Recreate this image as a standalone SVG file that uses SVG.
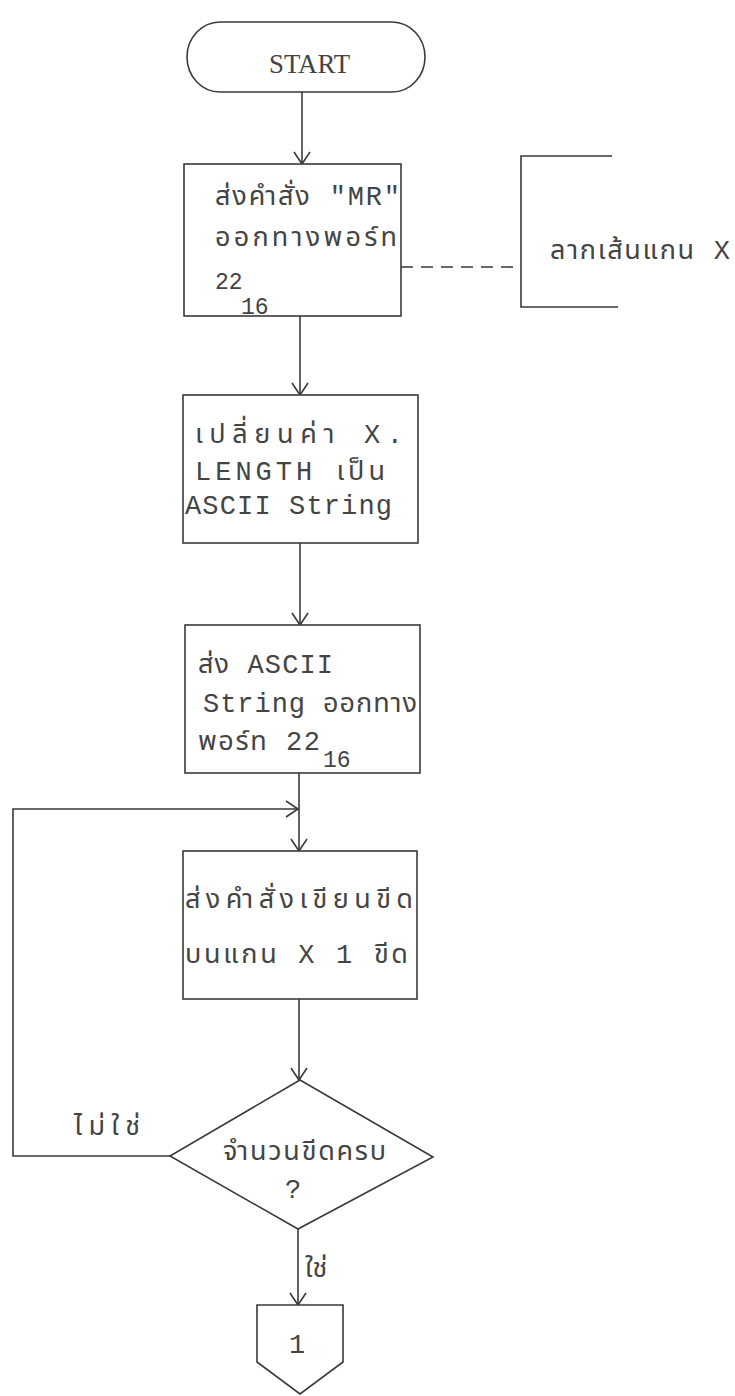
<svg xmlns="http://www.w3.org/2000/svg" width="735" height="1396" viewBox="0 0 735 1396">
<style>
.s{fill:none;stroke:#3a3a3a;stroke-width:1.6}
.n{fill:#ffffff;stroke:#3a3a3a;stroke-width:1.6}
.t{font-family:"Liberation Mono","Noto Sans Thai","Noto Serif Thai","Noto Sans","DejaVu Sans",monospace;font-size:27px;fill:#444444}
.e{font-family:"Liberation Serif",serif;font-size:28px;fill:#444444}
.md{font-size:23px}
</style>
<defs>
<marker id="a" markerUnits="userSpaceOnUse" markerWidth="16" markerHeight="20" refX="13" refY="9" orient="auto">
<path d="M1,1 L13,9 L1,17" fill="none" stroke="#3a3a3a" stroke-width="1.6"/>
</marker>
</defs>
<rect width="735" height="1396" fill="#ffffff"/>
<g id="connectors">
<line class="s" x1="302" y1="92" x2="302" y2="164" marker-end="url(#a)"/>
<line class="s" x1="300" y1="316" x2="300" y2="395" marker-end="url(#a)"/>
<line class="s" x1="300" y1="543" x2="300" y2="625" marker-end="url(#a)"/>
<line class="s" x1="299" y1="773" x2="299" y2="851" marker-end="url(#a)"/>
<polyline class="s" points="170,1156 13,1156 13,809 298,809" marker-end="url(#a)"/>
<line class="s" x1="299" y1="999" x2="299" y2="1080" marker-end="url(#a)"/>
<line class="s" x1="298" y1="1229" x2="298" y2="1305" marker-end="url(#a)"/>
<line class="s" x1="401" y1="267" x2="521" y2="267" stroke-dasharray="12,8"/>
<text class="t" x="305" y="1277">ใช่</text>
<text class="t" x="74" y="1135" textLength="66" lengthAdjust="spacing">ไม่ใช่</text>
</g>
<g id="start">
<rect class="n" x="187" y="22" width="238" height="70" rx="33" ry="35"/>
<text class="e" x="269" y="73" textLength="81" lengthAdjust="spacingAndGlyphs">START</text>
</g>
<g id="box1">
<rect class="n" x="184" y="164" width="217" height="152"/>
<text class="t" x="215" y="205" textLength="185" lengthAdjust="spacing">ส่งคำสั่ง "MR"</text>
<text class="t" x="215" y="246" textLength="182" lengthAdjust="spacing">ออกทางพอร์ท</text>
<text class="t md" x="215" y="289">22</text>
<text class="t md" x="241" y="314">16</text>
</g>
<g id="note">
<polyline class="s" points="612,156 521,156 521,307 618,307"/>
<text class="t" x="550" y="259" textLength="180" lengthAdjust="spacing">ลากเส้นแกน X</text>
</g>
<g id="box2">
<rect class="n" x="183" y="395" width="235" height="148"/>
<text class="t" x="195" y="443" textLength="208" lengthAdjust="spacing">เปลี่ยนค่า X.</text>
<text class="t" x="195" y="480" textLength="190" lengthAdjust="spacing">LENGTH เป็น</text>
<text class="t" x="185" y="514" textLength="207" lengthAdjust="spacing">ASCII String</text>
</g>
<g id="box3">
<rect class="n" x="185" y="625" width="235" height="148"/>
<text class="t" x="198" y="673" textLength="135" lengthAdjust="spacing">ส่ง ASCII</text>
<text class="t" x="203" y="712" textLength="214" lengthAdjust="spacing">String ออกทาง</text>
<text class="t" x="198" y="750" textLength="122" lengthAdjust="spacing">พอร์ท 22</text>
<text class="t md" x="323" y="767">16</text>
</g>
<g id="box4">
<rect class="n" x="183" y="851" width="234" height="148"/>
<text class="t" x="185" y="908" textLength="228" lengthAdjust="spacing">ส่งคำสั่งเขียนขีด</text>
<text class="t" x="185" y="963" textLength="223" lengthAdjust="spacing">บนแกน X 1 ขีด</text>
</g>
<g id="decision">
<polygon class="n" points="300,1080 433,1157 298,1229 170,1156"/>
<text class="t" x="223" y="1160" textLength="163" lengthAdjust="spacing">จำนวนขีดครบ</text>
<text class="t" x="293" y="1198" text-anchor="middle">?</text>
</g>
<g id="offpage">
<polygon class="n" points="257,1305 343,1305 343,1362 300,1394 257,1362"/>
<text class="t" x="297" y="1353" text-anchor="middle">1</text>
</g>
</svg>
